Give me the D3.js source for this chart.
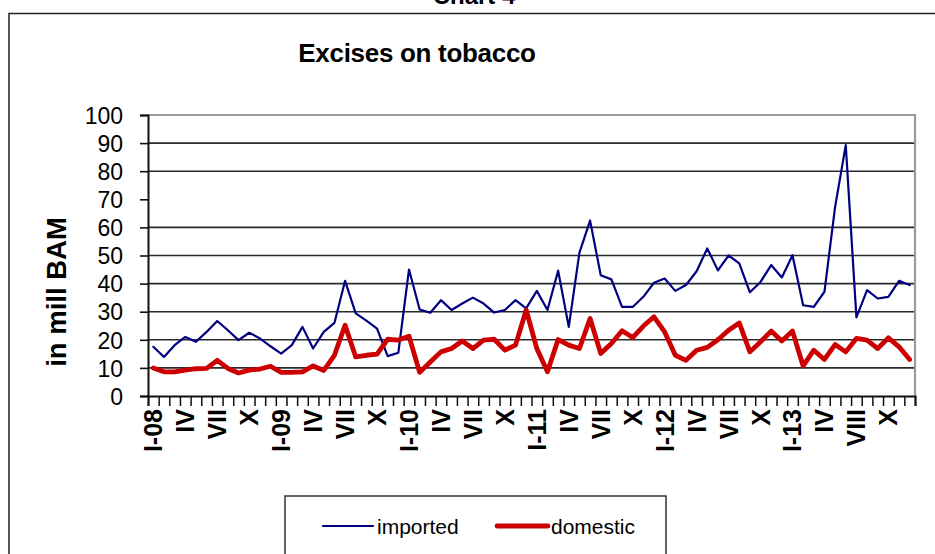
<!DOCTYPE html>
<html>
<head>
<meta charset="utf-8">
<script src="https://cdn.jsdelivr.net/npm/d3@7/dist/d3.min.js"></script>
<style>
  html, body { margin: 0; padding: 0; background: #fff; }
  svg { display: block; font-family: "Liberation Sans", Arial, sans-serif; }
</style>
</head>
<body>
<svg id="chart" width="935" height="554"></svg>
<script>
// Monthly categories, January 2008 – December 2013
const categories = [
  "I-08","II","III","IV","V","VI","VII","VIII","IX","X","XI","XII",
  "I-09","II","III","IV","V","VI","VII","VIII","IX","X","XI","XII",
  "I-10","II","III","IV","V","VI","VII","VIII","IX","X","XI","XII",
  "I-11","II","III","IV","V","VI","VII","VIII","IX","X","XI","XII",
  "I-12","II","III","IV","V","VI","VII","VIII","IX","X","XI","XII",
  "I-13","II","III","IV","V","VI","VIII","VIII","IX","X","XI","XII"
];

// Excise revenue, million BAM
const imported = [
  17.5, 13.9, 18.1, 21.0, 19.3, 22.8, 26.7, 23.4, 19.9, 22.5, 20.5, 17.7,
  15.1, 18.1, 24.6, 16.9, 22.8, 26.0, 41.0, 29.4, 26.8, 24.0, 14.2, 15.4,
  45.0, 30.8, 29.6, 34.1, 30.6, 32.9, 35.0, 32.9, 29.7, 30.6, 34.1, 31.2,
  37.4, 30.6, 44.6, 24.6, 51.0, 62.4, 43.0, 41.5, 31.7, 31.7, 35.3, 40.3,
  41.8, 37.4, 39.5, 44.4, 52.5, 44.7, 50.0, 47.2, 36.9, 40.6, 46.6, 42.2,
  50.1, 32.3, 31.7, 37.1, 67.3, 89.3, 28.0, 37.7, 34.7, 35.3, 41.0, 39.5
];
const domestic = [
  10.0, 8.6, 8.6, 9.2, 9.7, 9.8, 12.7, 9.8, 8.2, 9.2, 9.6, 10.6,
  8.4, 8.4, 8.6, 10.7, 9.1, 14.5, 25.2, 13.9, 14.5, 14.9, 20.2, 19.9,
  21.3, 8.4, 12.1, 15.7, 16.9, 19.6, 16.9, 19.9, 20.2, 16.3, 18.1, 30.6,
  16.9, 8.6, 20.1, 18.1, 16.9, 27.6, 15.1, 18.7, 23.2, 20.8, 24.9, 28.2,
  22.8, 14.5, 12.7, 16.3, 17.3, 20.0, 23.4, 26.0, 15.7, 19.3, 23.1, 19.6,
  23.1, 10.7, 16.3, 13.0, 18.3, 15.7, 20.5, 19.9, 16.9, 20.7, 17.5, 13.0
];

const yTicks = [0, 10, 20, 30, 40, 50, 60, 70, 80, 90, 100];
const gridValues = [10, 20, 30, 40, 50, 60, 80, 90];
const labelStep = 3;

const series = [
  { name: "imported", values: imported, color: "#000080", width: 2.2 },
  { name: "domestic", values: domestic, color: "#CC0000", width: 4.8 }
];

const svg = d3.select("#chart");
const font = '"Liberation Sans", Arial, sans-serif';

const plot = { left: 148, right: 915, top: 115, bottom: 396 };

const x = d3.scaleBand()
  .domain(d3.range(categories.length))
  .range([plot.left, plot.right])
  .paddingInner(0).paddingOuter(0);
const xc = i => x(i) + x.bandwidth() / 2;

const y = d3.scaleLinear().domain([0, 100]).range([plot.bottom, plot.top]);

// Page caption (mostly above the visible frame)
svg.append("text")
  .attr("x", 474).attr("y", 4)
  .attr("text-anchor", "middle")
  .attr("font-size", 24).attr("font-weight", "bold")
  .text("Chart 4");

// Outer frame
svg.append("rect")
  .attr("x", 9).attr("y", 13.5)
  .attr("width", 960).attr("height", 600)
  .attr("fill", "none").attr("stroke", "#222").attr("stroke-width", 1.5);

// Title
svg.append("text")
  .attr("x", 417).attr("y", 62)
  .attr("text-anchor", "middle")
  .attr("font-size", 26).attr("font-weight", "bold")
  .attr("letter-spacing", -0.3)
  .text("Excises on tobacco");

// Gridlines
svg.append("g")
  .selectAll("line")
  .data(gridValues)
  .join("line")
  .attr("x1", plot.left).attr("x2", plot.right)
  .attr("y1", d => y(d)).attr("y2", d => y(d))
  .attr("stroke", "#2a2a2a").attr("stroke-width", 1.6);

// Plot-area border (top and right)
svg.append("path")
  .attr("d", `M${plot.left},${y(100)}H${plot.right}V${plot.bottom}`)
  .attr("fill", "none").attr("stroke", "#9a9a9a").attr("stroke-width", 2.2);

// Y axis
const yAxis = d3.axisLeft(y).tickValues(yTicks).tickSize(8).tickPadding(17);
const yg = svg.append("g")
  .attr("transform", `translate(${plot.left},0)`)
  .call(yAxis);
yg.select(".domain").attr("stroke", "#111").attr("stroke-width", 2);
yg.selectAll(".tick line").attr("stroke", "#111").attr("stroke-width", 1.6);
yg.selectAll(".tick text")
  .attr("font-family", font).attr("font-size", 23).attr("fill", "#000")
  .attr("dy", "0.36em");

// X axis: ticks at month boundaries
const boundaries = d3.range(categories.length + 1);
const bx = d3.scaleLinear().domain([0, categories.length]).range([plot.left, plot.right]);
const xAxis = d3.axisBottom(bx).tickValues(boundaries).tickSize(10).tickFormat("");
const xg = svg.append("g")
  .attr("transform", `translate(0,${plot.bottom})`)
  .call(xAxis);
xg.select(".domain").attr("stroke", "#111").attr("stroke-width", 2);
xg.selectAll(".tick line").attr("stroke", "#111").attr("stroke-width", 1.5);

// Quarterly category labels, rotated
svg.append("g")
  .selectAll("text")
  .data(categories.map((c, i) => ({ c, i })).filter(d => d.i % labelStep === 0))
  .join("text")
  .attr("transform", d => `translate(${xc(d.i)},${plot.bottom + 13}) rotate(-90)`)
  .attr("text-anchor", "end")
  .attr("dy", "0.36em")
  .attr("font-size", 25).attr("font-weight", "bold")
  .text(d => d.c);

// Y axis title
svg.append("text")
  .attr("transform", "translate(56,292) rotate(-90)")
  .attr("text-anchor", "middle")
  .attr("dy", "0.36em")
  .attr("font-size", 27.5).attr("font-weight", "bold")
  .text("in mill BAM");

// Series lines
const line = d3.line()
  .x((d, i) => xc(i))
  .y(d => y(d));

svg.append("g")
  .selectAll("path")
  .data(series)
  .join("path")
  .attr("d", s => line(s.values))
  .attr("fill", "none")
  .attr("stroke", s => s.color)
  .attr("stroke-width", s => s.width)
  .attr("stroke-linejoin", "round")
  .attr("stroke-linecap", "round");

// Legend
const legend = svg.append("g");
legend.append("rect")
  .attr("x", 285).attr("y", 496)
  .attr("width", 381).attr("height", 80)
  .attr("fill", "#fff").attr("stroke", "#333").attr("stroke-width", 1.5);

const legendItems = [
  { s: series[0], x1: 323, x2: 373, tx: 377 },
  { s: series[1], x1: 497, x2: 548, tx: 551 }
];
legendItems.forEach(it => {
  legend.append("line")
    .attr("x1", it.x1).attr("x2", it.x2)
    .attr("y1", 526).attr("y2", 526)
    .attr("stroke", it.s.color).attr("stroke-width", it.s.width)
    .attr("stroke-linecap", "round");
  legend.append("text")
    .attr("x", it.tx).attr("y", 526)
    .attr("dy", "0.36em")
    .attr("font-size", 21)
    .text(it.s.name);
});
</script>
</body>
</html>
